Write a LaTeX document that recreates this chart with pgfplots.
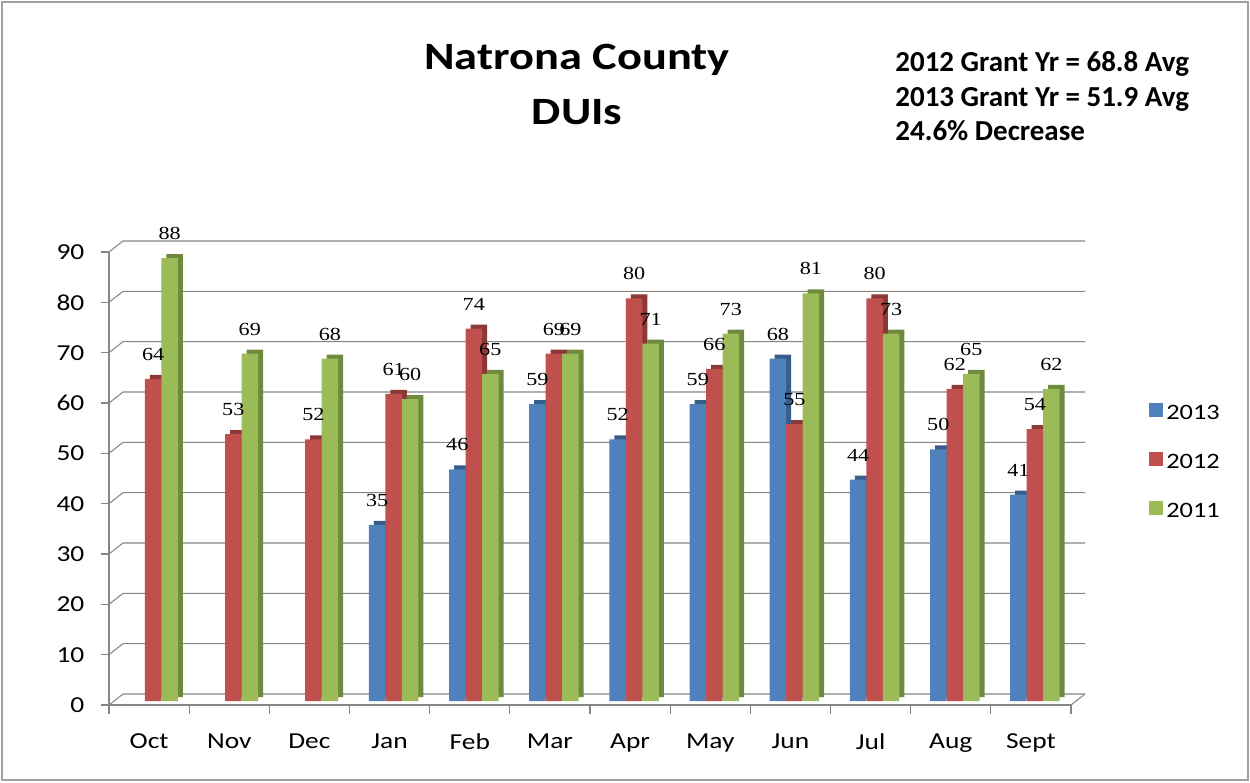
\documentclass[border=0pt]{standalone}
\usepackage{pgfplots}
\pgfplotsset{compat=1.18}
\usepackage{fontspec}
\setmainfont{Carlito}[FakeStretch=1.2]
\newfontfamily\lblfont{Liberation Serif}[FakeStretch=1.2]
\newfontfamily\plainfont{Carlito}
\definecolor{cblue}{HTML}{4F81BD}
\definecolor{cred}{HTML}{C0504D}
\definecolor{cgreen}{HTML}{9BBB59}
\definecolor{dblue}{HTML}{385D8A}
\definecolor{dred}{HTML}{8C3836}
\definecolor{dgreen}{HTML}{6E8A3E}
\definecolor{gridc}{HTML}{868686}
\definecolor{framec}{HTML}{A0A0A0}
\begin{document}
\begin{tikzpicture}
\path (0,0) rectangle (25cm,15.64cm);
\draw[framec, line width=0.04cm] (0.04cm,0.04cm) rectangle (24.96cm,15.6cm);
\node[anchor=base, font=\fontsize{22}{26}\selectfont\bfseries] at (11.54cm,14.24cm) {Natrona County};
\node[anchor=base, font=\fontsize{22}{26}\selectfont\bfseries] at (11.54cm,13.14cm) {DUIs};
\node[anchor=base west, inner sep=0, font=\plainfont\fontsize{16.5}{20}\selectfont\bfseries] at (17.9cm,14.2cm) {2012 Grant Yr = 68.8 Avg};
\node[anchor=base west, inner sep=0, font=\plainfont\fontsize{16.5}{20}\selectfont\bfseries] at (17.9cm,13.5cm) {2013 Grant Yr = 51.9 Avg};
\node[anchor=base west, inner sep=0, font=\plainfont\fontsize{16.5}{20}\selectfont\bfseries] at (17.9cm,12.82cm) {24.6\% Decrease};
\begin{axis}[
  at={(2.18cm,1.54cm)}, anchor=south west,
  scale only axis, width=19.24cm, height=9.06cm,
  xmin=-0.5, xmax=11.5, ymin=0, ymax=90,
  clip=false, set layers,
  axis x line*=bottom, axis y line*=left,
  axis line style={gridc, line width=0.6pt, -},
  tick align=outside,
  major tick length=0.17cm,
  tick style={gridc, line width=0.6pt},
  ytick={0,10,...,90},
  xtick={-0.5,0.5,...,10.5},
  xticklabels={Oct,Nov,Dec,Jan,Feb,Mar,Apr,May,Jun,Jul,Aug,Sept},
  extra x ticks={11.5}, extra x tick labels={},
  xticklabel style={xshift=0.802cm, yshift=-0.28cm},
  yticklabel style={xshift=-0.2cm},
  ticklabel style={font=\fontsize{13}{15}\selectfont},
  /pgf/number format/assume math mode=true,
  bar width=0.33cm,
  legend cell align=left,
  legend style={draw=none, fill=none, at={(1.075,0.534)}, anchor=west, font=\fontsize{12.5}{15}\selectfont, row sep=0.5cm},
  legend image code/.code={\fill[#1] (0cm,-0.14cm) rectangle (0.28cm,0.14cm);},
  lbl/.style={nodes near coords, every node near coord/.append style={font=\lblfont\fontsize{10.5}{12}\selectfont, anchor=south, inner sep=0pt, yshift=0.36cm, xshift=#1}},
]
\begin{pgfonlayer}{axis background}
\pgfplotsinvokeforeach{0,10,...,90}{
  \draw[gridc, line width=0.6pt] (axis cs:-0.5,#1) -- ++(0.28cm,0.22cm) -- ([xshift=0.28cm,yshift=0.22cm]axis cs:11.5,#1);
}
\draw[gridc, line width=0.6pt] (axis cs:11.5,0) -- ++(0.28cm,0.22cm);
\end{pgfonlayer}
% 2013
\addplot[ybar, bar shift=-0.25cm, fill=dblue, draw=none, forget plot, xshift=0.1cm, yshift=0.16cm] coordinates {(3,35) (4,46) (5,59) (6,52) (7,59) (8,68) (9,44) (10,50) (11,41)};
\addplot[ybar, bar shift=-0.25cm, fill=cblue, draw=none, yshift=0.08cm, lbl=-0.25cm] coordinates {(3,35) (4,46) (5,59) (6,52) (7,59) (8,68) (9,44) (10,50) (11,41)};
\addlegendentry{2013}
% 2012
\addplot[ybar, bar shift=0.08cm, fill=dred, draw=none, forget plot, xshift=0.1cm, yshift=0.16cm] coordinates {(0,64) (1,53) (2,52) (3,61) (4,74) (5,69) (6,80) (7,66) (8,55) (9,80) (10,62) (11,54)};
\addplot[ybar, bar shift=0.08cm, fill=cred, draw=none, yshift=0.08cm, lbl=0.08cm] coordinates {(0,64) (1,53) (2,52) (3,61) (4,74) (5,69) (6,80) (7,66) (8,55) (9,80) (10,62) (11,54)};
\addlegendentry{2012}
% 2011
\addplot[ybar, bar shift=0.41cm, fill=dgreen, draw=none, forget plot, xshift=0.1cm, yshift=0.16cm] coordinates {(0,88) (1,69) (2,68) (3,60) (4,65) (5,69) (6,71) (7,73) (8,81) (9,73) (10,65) (11,62)};
\addplot[ybar, bar shift=0.41cm, fill=cgreen, draw=none, yshift=0.08cm, lbl=0.41cm] coordinates {(0,88) (1,69) (2,68) (3,60) (4,65) (5,69) (6,71) (7,73) (8,81) (9,73) (10,65) (11,62)};
\addlegendentry{2011}
\end{axis}
\end{tikzpicture}
\end{document}
